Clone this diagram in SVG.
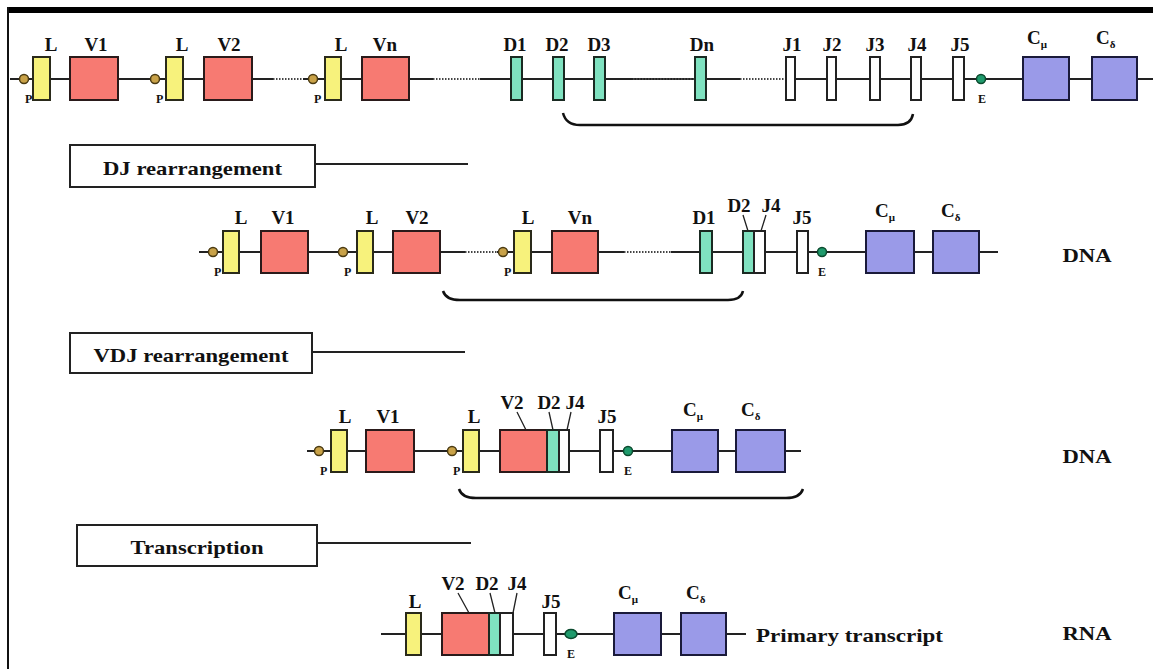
<svg xmlns="http://www.w3.org/2000/svg" width="1153" height="669" viewBox="0 0 1153 669">
<style>
.bb{stroke:#222;stroke-width:2;fill:none}
.dot{stroke:#444;stroke-width:2;stroke-dasharray:1.5 1.5;fill:none}
.L{fill:#f7f27c;stroke:#2a2a1a;stroke-width:2}
.V{fill:#f77a72;stroke:#2a1a1a;stroke-width:2}
.D{fill:#7fe2c0;stroke:#1a2a22;stroke-width:2}
.J{fill:#fff;stroke:#222;stroke-width:2}
.C{fill:#9a9ae8;stroke:#1a1a3a;stroke-width:2}
.P{fill:#c9a248;stroke:#4a3a12;stroke-width:1.5}
.E{fill:#1f9a6c;stroke:#0b4a2e;stroke-width:1.5}
text{font-family:"Liberation Serif","Times New Roman",serif;font-weight:bold;fill:#111}
.lbl{font-size:19px;text-anchor:middle}
.cl{font-size:19px}
.sub{font-size:11px}
.sm{font-size:12px}
.sme{font-size:12px;text-anchor:middle}
.big{font-size:19px;text-anchor:middle}
.box{fill:#fff;stroke:#222;stroke-width:2}
.brk{fill:none;stroke:#111;stroke-width:2.5}
.lead{stroke:#222;stroke-width:1.3;fill:none}
</style>
<rect x="0" y="0" width="1153" height="669" fill="#fff"/>
<g id="frame">
<rect x="7" y="7" width="1146" height="6" fill="#000"/>
<line x1="8" y1="7" x2="8" y2="669" stroke="#111" stroke-width="2"/>
</g>
<g id="connectors">
<path class="bb" d="M10,79H273M303,79H433M480,79H695M706,79H740M786,79H1153"/>
<path class="dot" d="M273,79H303M433,79H480M633,79H695M740,79H786"/>
<path class="bb" d="M199,252H465M497,252H624M671,252H998"/>
<path class="dot" d="M465,252H497M624,252H671"/>
<path class="bb" d="M307,451H801"/>
<path class="bb" d="M381,634H746"/>
<path class="bb" d="M315,164H468M312,352H465M317,543H471"/>
<path class="lead" d="M743,215L748,231M766,215L761,231"/>
<path class="lead" d="M517,412L526,430M549,412L553,430M571,412L567,430"/>
<path class="lead" d="M458,593L469,613M490,593L495,613M517,593L513,613"/>
<path class="brk" d="M563,113Q566,125 580,125L898,125Q911,125 913,114"/>
<path class="brk" d="M443,291Q446,300 460,300L728,300Q741,300 743,291"/>
<path class="brk" d="M459,489Q462,498 476,498L786,498Q800,498 803,489"/>
</g>

<g id="row1">
<g id="r1-P1"><circle class="P" cx="24" cy="79" r="4.5"/><text class="sm" x="25" y="103">P</text></g>
<g id="r1-L1"><rect class="L" x="33" y="57" width="17" height="43"/><text class="lbl" x="51" y="51">L</text></g>
<g id="r1-V1"><rect class="V" x="70" y="57" width="48" height="43"/><text class="lbl" x="96" y="51">V1</text></g>
<g id="r1-P2"><circle class="P" cx="155" cy="79" r="4.5"/><text class="sm" x="156" y="103">P</text></g>
<g id="r1-L2"><rect class="L" x="166" y="57" width="17" height="43"/><text class="lbl" x="182" y="51">L</text></g>
<g id="r1-V2"><rect class="V" x="204" y="57" width="48" height="43"/><text class="lbl" x="229" y="51">V2</text></g>
<g id="r1-P3"><circle class="P" cx="313" cy="79" r="4.5"/><text class="sm" x="314" y="103">P</text></g>
<g id="r1-L3"><rect class="L" x="325" y="57" width="16" height="43"/><text class="lbl" x="341" y="51">L</text></g>
<g id="r1-Vn"><rect class="V" x="362" y="57" width="47" height="43"/><text class="lbl" x="385" y="51">Vn</text></g>
<g id="r1-D1"><rect class="D" x="511" y="57" width="11" height="43"/><text class="lbl" x="515" y="51">D1</text></g>
<g id="r1-D2"><rect class="D" x="553" y="57" width="11" height="43"/><text class="lbl" x="557" y="51">D2</text></g>
<g id="r1-D3"><rect class="D" x="594" y="57" width="11" height="43"/><text class="lbl" x="599" y="51">D3</text></g>
<g id="r1-Dn"><rect class="D" x="695" y="57" width="11" height="43"/><text class="lbl" x="702" y="51">Dn</text></g>
<g id="r1-J1"><rect class="J" x="786" y="57" width="9" height="43"/><text class="lbl" x="792" y="51">J1</text></g>
<g id="r1-J2"><rect class="J" x="827" y="57" width="9" height="43"/><text class="lbl" x="832" y="51">J2</text></g>
<g id="r1-J3"><rect class="J" x="870" y="57" width="10" height="43"/><text class="lbl" x="875" y="51">J3</text></g>
<g id="r1-J4"><rect class="J" x="911" y="57" width="10" height="43"/><text class="lbl" x="917" y="51">J4</text></g>
<g id="r1-J5"><rect class="J" x="953" y="57" width="11" height="43"/><text class="lbl" x="960" y="51">J5</text></g>
<g id="r1-E"><circle class="E" cx="981" cy="79" r="4.5"/><text class="sme" x="982" y="103">E</text></g>
<g id="r1-Cmu"><rect class="C" x="1023" y="57" width="46" height="43"/><text class="cl" x="1027" y="44">C<tspan class="sub" dy="4">μ</tspan></text></g>
<g id="r1-Cdelta"><rect class="C" x="1092" y="57" width="45" height="43"/><text class="cl" x="1096" y="44">C<tspan class="sub" dy="4">δ</tspan></text></g>
</g>

<g id="step-DJ"><rect class="box" x="70" y="145" width="245" height="42"/><text class="big" x="192.5" y="175" textLength="179" lengthAdjust="spacingAndGlyphs">DJ rearrangement</text></g>

<g id="row2">
<g id="r2-P1"><circle class="P" cx="213" cy="252" r="4.5"/><text class="sm" x="214" y="276">P</text></g>
<g id="r2-L1"><rect class="L" x="223" y="231" width="16" height="42"/><text class="lbl" x="241" y="224">L</text></g>
<g id="r2-V1"><rect class="V" x="261" y="231" width="47" height="42"/><text class="lbl" x="283" y="224">V1</text></g>
<g id="r2-P2"><circle class="P" cx="343" cy="252" r="4.5"/><text class="sm" x="344" y="276">P</text></g>
<g id="r2-L2"><rect class="L" x="357" y="231" width="16" height="42"/><text class="lbl" x="372" y="224">L</text></g>
<g id="r2-V2"><rect class="V" x="393" y="231" width="47" height="42"/><text class="lbl" x="417" y="224">V2</text></g>
<g id="r2-P3"><circle class="P" cx="503" cy="252" r="4.5"/><text class="sm" x="504" y="276">P</text></g>
<g id="r2-L3"><rect class="L" x="514" y="231" width="17" height="42"/><text class="lbl" x="528" y="224">L</text></g>
<g id="r2-Vn"><rect class="V" x="552" y="231" width="46" height="42"/><text class="lbl" x="580" y="224">Vn</text></g>
<g id="r2-D1"><rect class="D" x="700" y="231" width="12" height="42"/><text class="lbl" x="704" y="224">D1</text></g>
<g id="r2-D2"><rect class="D" x="743" y="231" width="11" height="42"/><text class="lbl" x="739" y="212">D2</text></g>
<g id="r2-J4"><rect class="J" x="754" y="231" width="11" height="42"/><text class="lbl" x="771" y="212">J4</text></g>
<g id="r2-J5"><rect class="J" x="797" y="231" width="11" height="42"/><text class="lbl" x="802" y="224">J5</text></g>
<g id="r2-E"><circle class="E" cx="822" cy="252" r="4.5"/><text class="sme" x="822" y="276">E</text></g>
<g id="r2-Cmu"><rect class="C" x="866" y="231" width="48" height="42"/><text class="cl" x="875" y="217">C<tspan class="sub" dy="4">μ</tspan></text></g>
<g id="r2-Cdelta"><rect class="C" x="933" y="231" width="46" height="42"/><text class="cl" x="941" y="217">C<tspan class="sub" dy="4">δ</tspan></text></g>
<g id="r2-DNA"><text class="big" x="1087" y="262" textLength="49" lengthAdjust="spacingAndGlyphs">DNA</text></g>
</g>

<g id="step-VDJ"><rect class="box" x="70" y="333" width="242" height="40"/><text class="big" x="191" y="362" textLength="195" lengthAdjust="spacingAndGlyphs">VDJ rearrangement</text></g>

<g id="row3">
<g id="r3-P1"><circle class="P" cx="319" cy="451" r="4.5"/><text class="sm" x="320" y="475">P</text></g>
<g id="r3-L1"><rect class="L" x="331" y="430" width="16" height="42"/><text class="lbl" x="345" y="423">L</text></g>
<g id="r3-V1"><rect class="V" x="366" y="430" width="48" height="42"/><text class="lbl" x="388" y="423">V1</text></g>
<g id="r3-P2"><circle class="P" cx="452" cy="451" r="4.5"/><text class="sm" x="453" y="475">P</text></g>
<g id="r3-L2"><rect class="L" x="463" y="430" width="16" height="42"/><text class="lbl" x="474" y="423">L</text></g>
<g id="r3-V2"><rect class="V" x="500" y="430" width="47" height="42"/><text class="lbl" x="512" y="409">V2</text></g>
<g id="r3-D2"><rect class="D" x="547" y="430" width="12" height="42"/><text class="lbl" x="549" y="409">D2</text></g>
<g id="r3-J4"><rect class="J" x="559" y="430" width="10" height="42"/><text class="lbl" x="575" y="409">J4</text></g>
<g id="r3-J5"><rect class="J" x="600" y="430" width="13" height="42"/><text class="lbl" x="607" y="423">J5</text></g>
<g id="r3-E"><circle class="E" cx="628" cy="451" r="4.5"/><text class="sme" x="628" y="475">E</text></g>
<g id="r3-Cmu"><rect class="C" x="672" y="430" width="46" height="42"/><text class="cl" x="683" y="416">C<tspan class="sub" dy="4">μ</tspan></text></g>
<g id="r3-Cdelta"><rect class="C" x="736" y="430" width="49" height="42"/><text class="cl" x="741" y="416">C<tspan class="sub" dy="4">δ</tspan></text></g>
<g id="r3-DNA"><text class="big" x="1087" y="463" textLength="49" lengthAdjust="spacingAndGlyphs">DNA</text></g>
</g>

<g id="step-Transcription"><rect class="box" x="77" y="525" width="240" height="41"/><text class="big" x="197" y="554" textLength="133" lengthAdjust="spacingAndGlyphs">Transcription</text></g>

<g id="row4">
<g id="r4-L"><rect class="L" x="406" y="613" width="15" height="42"/><text class="lbl" x="415" y="608">L</text></g>
<g id="r4-V2"><rect class="V" x="442" y="613" width="47" height="42"/><text class="lbl" x="453" y="590">V2</text></g>
<g id="r4-D2"><rect class="D" x="489" y="613" width="11" height="42"/><text class="lbl" x="487" y="590">D2</text></g>
<g id="r4-J4"><rect class="J" x="500" y="613" width="13" height="42"/><text class="lbl" x="517" y="590">J4</text></g>
<g id="r4-J5"><rect class="J" x="544" y="613" width="12" height="42"/><text class="lbl" x="551" y="608">J5</text></g>
<g id="r4-E"><ellipse class="E" cx="571" cy="634" rx="6" ry="4.5"/><text class="sme" x="571" y="658">E</text></g>
<g id="r4-Cmu"><rect class="C" x="614" y="613" width="47" height="42"/><text class="cl" x="618" y="599">C<tspan class="sub" dy="4">μ</tspan></text></g>
<g id="r4-Cdelta"><rect class="C" x="681" y="613" width="45" height="42"/><text class="cl" x="686" y="599">C<tspan class="sub" dy="4">δ</tspan></text></g>
<g id="r4-transcript"><text class="cl" x="756" y="642" textLength="187" lengthAdjust="spacingAndGlyphs">Primary transcript</text></g>
<g id="r4-RNA"><text class="big" x="1087" y="640" textLength="49" lengthAdjust="spacingAndGlyphs">RNA</text></g>
</g>
</svg>
